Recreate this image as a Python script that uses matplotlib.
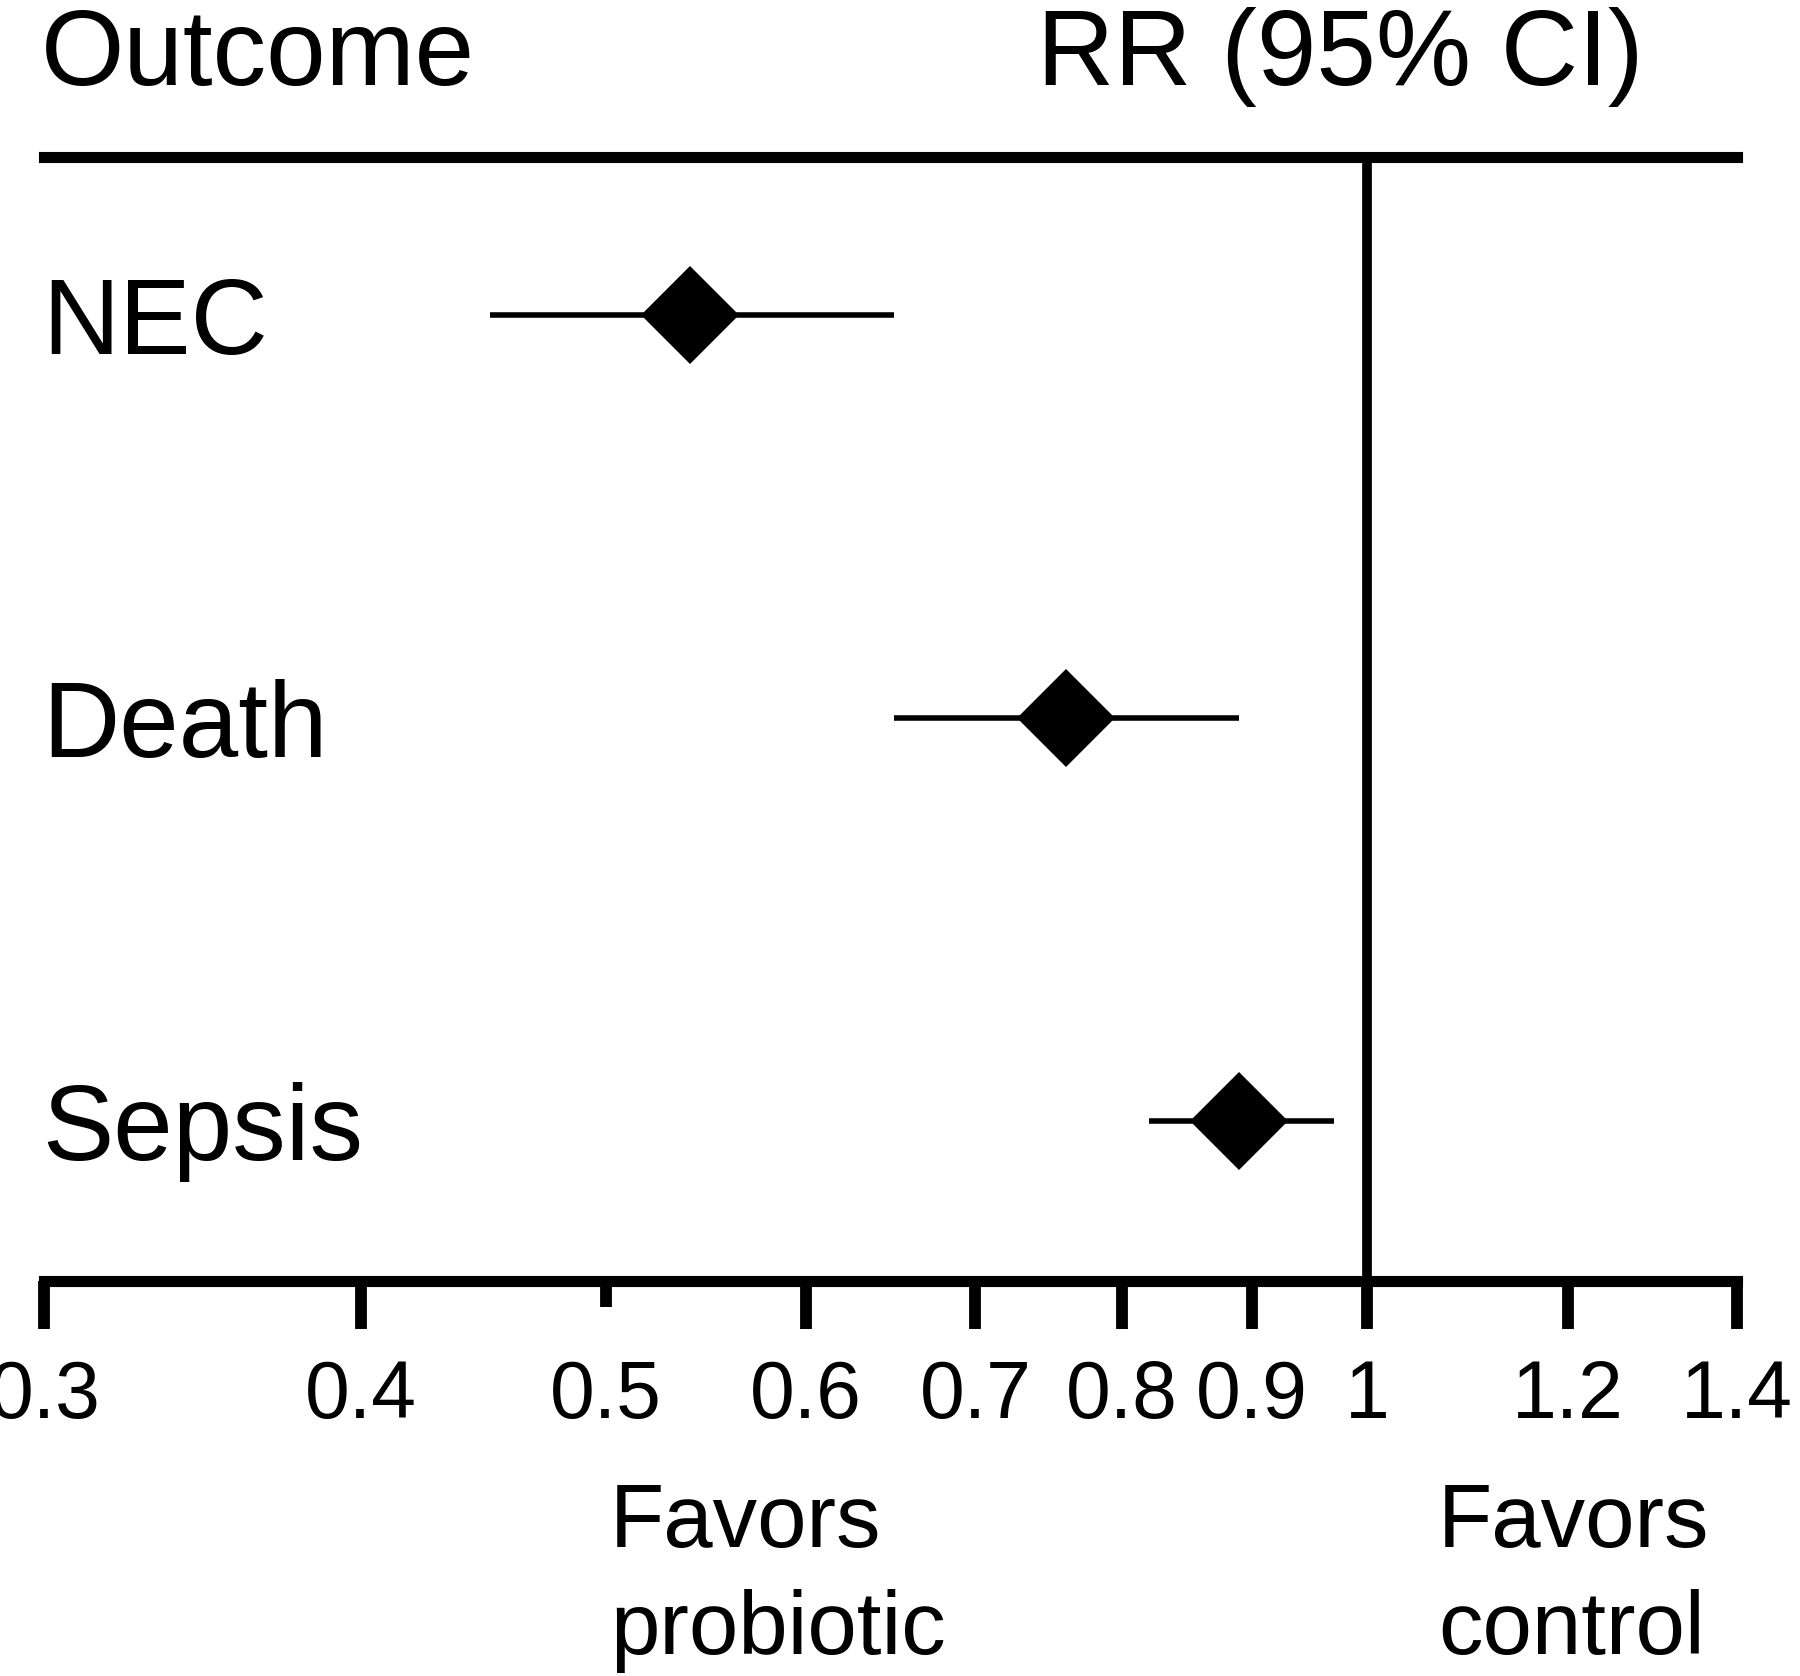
import matplotlib.pyplot as plt
from matplotlib.transforms import blended_transform_factory

plt.rcParams['font.family'] = ['Liberation Sans', 'DejaVu Sans']

outcomes = ["NEC", "Death", "Sepsis"]
rr = [0.54, 0.76, 0.89]
ci_low = [0.45, 0.65, 0.82]
ci_high = [0.65, 0.89, 0.97]

major_ticks = [0.3, 0.4, 0.6, 0.7, 0.8, 0.9, 1, 1.2, 1.4]
major_labels = ["0.3", "0.4", "0.6", "0.7", "0.8", "0.9", "1", "1.2", "1.4"]
minor_ticks = [0.5]
minor_labels = ["0.5"]

W, H = 1800, 1676
fig = plt.figure(figsize=(W / 100, H / 100), dpi=100)

# axes box in pixels (from the top-left): x 44.5..1737, y 156.5..1281
left, right, top, bottom = 44.5, 1737, 156.5, 1281
ax = fig.add_axes([left / W, 1 - bottom / H, (right - left) / W, (bottom - top) / H])

rows = list(range(len(outcomes)))
ax.hlines(rows, ci_low, ci_high, color="black", lw=4)
ax.plot(rr, rows, "D", color="black", ms=50, mew=0, zorder=3)
ax.axvline(1, color="black", lw=7)

ax.set_xscale("log")
ax.set_xlim(0.3, 1.4)
ax.set_ylim(2.397, -0.393)
ax.set_xticks(major_ticks, labels=major_labels)
ax.set_xticks(minor_ticks, labels=minor_labels, minor=True)
ax.tick_params(axis="x", which="major", length=34.5, width=8.5, pad=22, labelsize=58)
ax.tick_params(axis="x", which="minor", length=19, width=8.5, pad=37.5, labelsize=58)
ax.set_yticks([])

for side in ["left", "right"]:
    ax.spines[side].set_visible(False)
for side in ["top", "bottom"]:
    ax.spines[side].set_linewidth(8)

# row labels
tr = blended_transform_factory(fig.transFigure, ax.transData)
for i, name in enumerate(outcomes):
    fig.text(42 / W, rows[i], name, transform=tr, fontsize=77,
             va="center_baseline", ha="left")

# header
fig.text(41 / W, 1 - 85 / H, "Outcome", fontsize=77, va="baseline", ha="left")
fig.text(1037 / W, 1 - 85 / H, "RR (95% CI)", fontsize=77, va="baseline", ha="left")

# direction labels (baseline of the last line)
fig.text(610 / W, 1 - 1654 / H, "Favors\nprobiotic", fontsize=64,
         va="baseline", ha="left", linespacing=1.36)
fig.text(1438 / W, 1 - 1654 / H, "Favors\ncontrol", fontsize=64,
         va="baseline", ha="left", linespacing=1.36)

fig.savefig("out.png", dpi=100)
